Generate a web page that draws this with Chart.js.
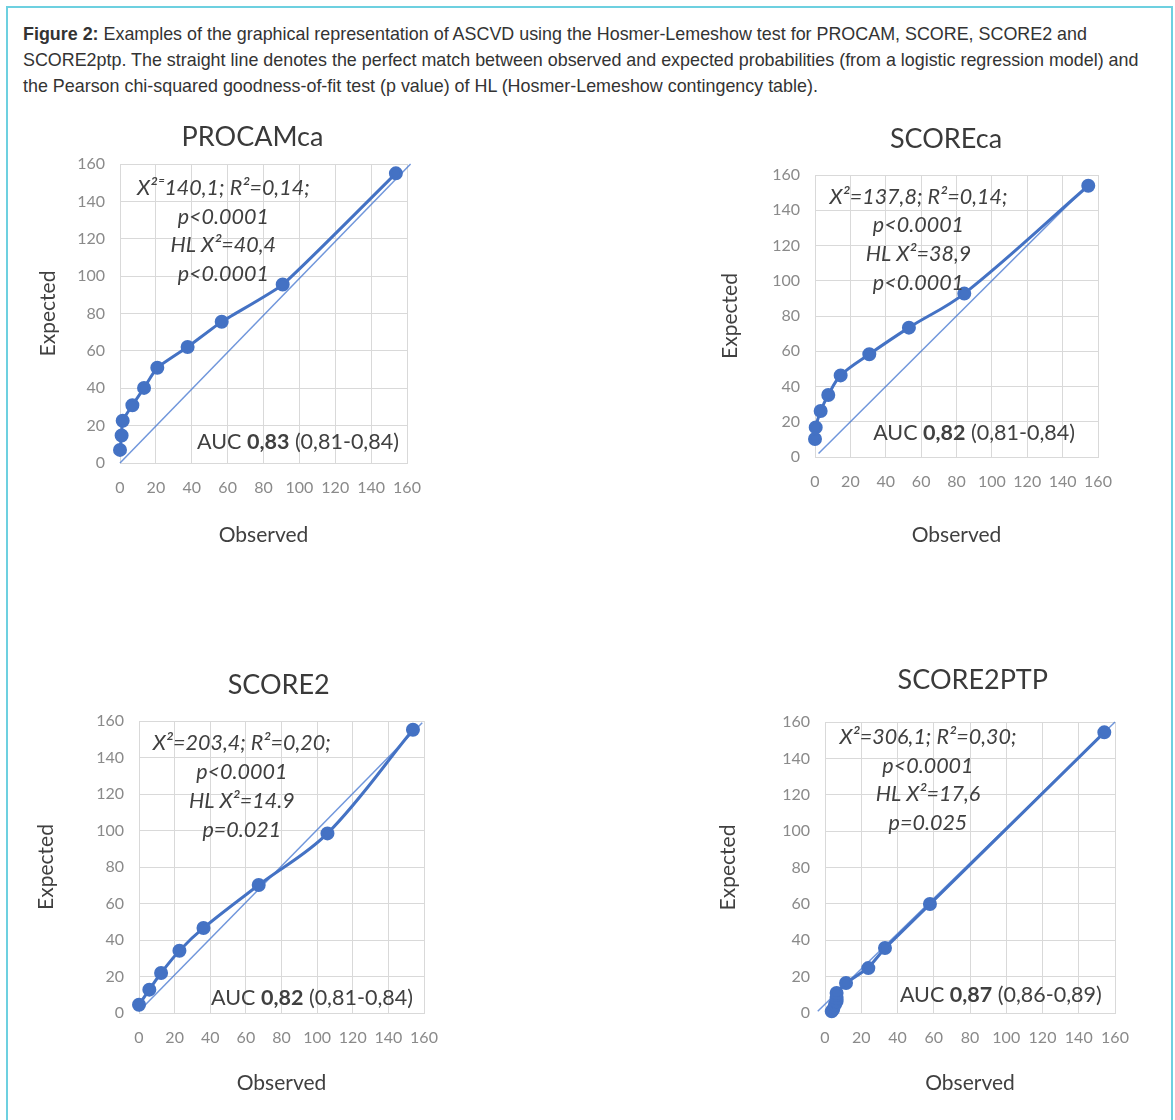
<!DOCTYPE html>
<html><head><meta charset="utf-8">
<script src="https://cdn.jsdelivr.net/npm/chart.js@4.4.1/dist/chart.umd.min.js"></script>
<style>
html,body{margin:0;padding:0;background:#fff;}
body{width:1175px;height:1120px;position:relative;overflow:hidden;}
#frame{position:absolute;left:6px;top:6px;width:1167px;height:1200px;border:2px solid #6dd0e0;box-sizing:border-box;}
#caption{position:absolute;left:23px;top:21px;font-family:"Liberation Sans",Arial,sans-serif;font-size:17.9px;line-height:26px;color:#333;white-space:nowrap;}
canvas{position:absolute;}
</style></head><body>
<div id="frame"></div>
<div id="caption"><b>Figure 2:</b> Examples of the graphical representation of ASCVD using the Hosmer-Lemeshow test for PROCAM, SCORE, SCORE2 and<br>SCORE2ptp. The straight line denotes the perfect match between observed and expected probabilities (from a logistic regression model) and<br>the Pearson chi-squared goodness-of-fit test (p value) of HL (Hosmer-Lemeshow contingency table).</div>
<canvas id="c1"></canvas>
<canvas id="c2"></canvas>
<canvas id="c3"></canvas>
<canvas id="c4"></canvas>
<script>
// ---------- data ----------
const tickValues = [0, 20, 40, 60, 80, 100, 120, 140, 160];
const xAxisTitle = "Observed";
const yAxisTitle = "Expected";

const procamTitle = "PROCAMca";
const procamObserved = [0, 0.9, 1.5, 6.9, 13.4, 20.8, 37.7, 56.7, 90.7, 153.8];
const procamExpected = [7.0, 14.7, 22.6, 30.9, 40.2, 51.0, 62.1, 75.6, 95.5, 155.0];
const procamRefX = [0, 162];
const procamRefY = [0, 160];
const procamNotes = ["X\u00B2\u207C140,1; R\u00B2=0,14;", "p<0.0001", "HL X\u00B2=40,4", "p<0.0001"];
const procamAuc = ["0,83", "(0,81-0,84)"];

const scoreTitle = "SCOREca";
const scoreObserved = [0, 0.4, 3.2, 7.5, 14.5, 30.7, 53.1, 84.4, 154.5];
const scoreExpected = [10.2, 16.8, 26.1, 35.2, 46.3, 58.3, 73.4, 92.7, 153.9];
const scoreRefX = [2, 156];
const scoreRefY = [2, 156];
const scoreNotes = ["X\u00B2=137,8; R\u00B2=0,14;", "p<0.0001", "HL X\u00B2=38,9", "p<0.0001"];
const scoreAuc = ["0,82", "(0,81-0,84)"];

const score2Title = "SCORE2";
const score2Observed = [0, 5.8, 12.4, 22.7, 36.2, 67.2, 105.8, 153.8];
const score2Expected = [4.5, 12.8, 21.9, 34.1, 46.6, 70.1, 98.4, 155.2];
const score2RefX = [0, 159];
const score2RefY = [1, 159];
const score2Notes = ["X\u00B2=203,4; R\u00B2=0,20;", "p<0.0001", "HL X\u00B2=14.9", "p=0.021"];
const score2Auc = ["0,82", "(0,81-0,84)"];

const ptpTitle = "SCORE2PTP";
const ptpObserved = [3.7, 4.5, 5.5, 6.4, 6.4, 6.4, 11.6, 23.9, 33.1, 57.9, 154.1];
const ptpExpected = [0.9, 2.0, 4.6, 6.5, 8.2, 11.0, 16.5, 24.7, 35.7, 59.9, 154.3];
const ptpRefX = [-4, 160];
const ptpRefY = [1, 160];
const ptpNotes = ["X\u00B2=306,1; R\u00B2=0,30;", "p<0.0001", "HL X\u00B2=17,6", "p=0.025"];
const ptpAuc = ["0,87", "(0,86-0,89)"];

// ---------- layout / style ----------
const FONT = 'Lato, "Open Sans", sans-serif';
const TITLE_SIZE = 27, AXIS_SIZE = 21, TICK_SIZE = 16, NOTE_SIZE = 21.5;
const BLUE = '#4472C4';
const REF_BLUE = 'rgba(76,124,210,0.8)';
const GRID = '#d9d9d9';

const layouts = {
  c1: {plot:{l:120,t:164,r:407,b:463}, titleX:252.5, titleY:137, yTitleX:48, xTitleY:535,
       note:{x:57.6,y:147.1,gap:28.5}, auc:{x:155.5,y:11.4}, tension:0.15},
  c2: {plot:{l:815,t:175,r:1098,b:457}, titleX:946, titleY:139, yTitleX:730, xTitleY:535,
       note:{x:58.5,y:147.7,gap:28.8}, auc:{x:147,y:13.8}, tension:0.35},
  c3: {plot:{l:139,t:721,r:424,b:1013}, titleX:278.7, titleY:685, yTitleX:46.7, xTitleY:1083,
       note:{x:57.7,y:147.8,gap:29}, auc:{x:153.8,y:8.2}, tension:0.35},
  c4: {plot:{l:825,t:722,r:1115,b:1013}, titleX:972.8, titleY:680, yTitleX:728.3, xTitleY:1083,
       note:{x:56.8,y:151.6,gap:28.5}, auc:{x:152.7,y:9.9}, tension:0}
};

function pts(xs, ys) { return xs.map((x, i) => ({x: x, y: ys[i]})); }

function notesPlugin(lines, auc, L) {
  return {
    id: 'notes',
    afterDatasetsDraw(chart) {
      const ctx = chart.ctx, xs = chart.scales.x, ys = chart.scales.y;
      ctx.save();
      ctx.fillStyle = '#404040';
      ctx.textBaseline = 'middle';
      ctx.textAlign = 'center';
      ctx.font = 'italic ' + NOTE_SIZE + 'px ' + FONT;
      const nx = xs.getPixelForValue(L.note.x), ny = ys.getPixelForValue(L.note.y);
      lines.forEach((t, i) => ctx.fillText(t, nx, ny + i * L.note.gap));
      const reg = NOTE_SIZE + 'px ' + FONT, bold = 'bold ' + NOTE_SIZE + 'px ' + FONT;
      const parts = [["AUC ", reg], [auc[0], bold], [" " + auc[1], reg]];
      let w = 0;
      parts.forEach(p => { ctx.font = p[1]; w += ctx.measureText(p[0]).width; });
      let ax = xs.getPixelForValue(L.auc.x) - w;
      const ay = ys.getPixelForValue(L.auc.y);
      ctx.textAlign = 'left';
      parts.forEach(p => { ctx.font = p[1]; ctx.fillText(p[0], ax, ay); ax += ctx.measureText(p[0]).width; });
      ctx.restore();
    }
  };
}

function build(id, title, obs, exp, refX, refY, notes, auc) {
  const L = layouts[id], p = L.plot;
  const lhT = TITLE_SIZE * 1.2, lhA = AXIS_SIZE * 1.2;
  // vertical
  const cy = Math.floor(L.titleY - lhT / 2 - 2);
  const padTop = L.titleY - lhT / 2 - cy;
  const titlePadBottom = p.t - (cy + padTop + lhT);
  const ch = Math.ceil(L.xTitleY + lhA / 2 + 4 - cy);
  const padBottom = ch - (L.xTitleY + lhA / 2 - cy);
  const xAxisH = L.xTitleY + lhA / 2 - p.b;
  // horizontal
  const yTitlePad = 2;
  const boxLeft = L.yTitleX - lhA / 2 - yTitlePad;
  const cx = Math.floor(boxLeft - 2);
  const padLeft = boxLeft - cx;
  const yAxisW = p.l - boxLeft;
  const rightW = Math.max(0, 2 * L.titleX - boxLeft - p.r); // spacer so the title centres where it should
  const cw = Math.ceil(p.r + rightW + 2 - cx);
  const padRight = cw - (p.r + rightW - cx);

  const cv = document.getElementById(id);
  cv.width = cw; cv.height = ch;
  cv.style.left = cx + 'px'; cv.style.top = cy + 'px';
  cv.style.width = cw + 'px'; cv.style.height = ch + 'px';

  const setTicks = s => { s.ticks = tickValues.map(v => ({value: v})); };
  const tickStyle = {color: '#8a8a8a', font: {family: FONT, size: TICK_SIZE}, padding: 15, autoSkip: false, maxRotation: 0};
  const gridStyle = {color: GRID, lineWidth: 1, drawTicks: false};

  new Chart(cv, {
    type: 'scatter',
    data: {
      datasets: [
        {data: pts(obs, exp), showLine: true, borderColor: BLUE, backgroundColor: BLUE,
         borderWidth: 3, pointRadius: 5.5, pointHoverRadius: 5.5, tension: L.tension, clip: false},
        {data: pts(refX, refY), showLine: true, borderColor: REF_BLUE, backgroundColor: REF_BLUE,
         borderWidth: 1.5, pointRadius: 0, clip: false}
      ]
    },
    options: {
      responsive: false, animation: false, devicePixelRatio: 1,
      layout: {padding: {left: padLeft, right: padRight, top: padTop, bottom: padBottom}},
      plugins: {
        legend: {display: false}, tooltip: {enabled: false},
        title: {display: true, text: title, color: '#3a3a3a',
                font: {family: FONT, size: TITLE_SIZE, weight: 'normal', lineHeight: 1.2},
                padding: {top: 0, bottom: titlePadBottom}}
      },
      scales: {
        x: {type: 'linear', min: tickValues[0], max: tickValues[tickValues.length - 1],
            afterBuildTicks: setTicks, afterFit: s => { s.height = xAxisH; },
            grid: gridStyle, border: {display: true, color: GRID},
            ticks: tickStyle,
            title: {display: true, text: xAxisTitle, color: '#404040',
                    font: {family: FONT, size: AXIS_SIZE, lineHeight: 1.2}, padding: {top: 0, bottom: 0}}},
        y: {type: 'linear', min: tickValues[0], max: tickValues[tickValues.length - 1],
            afterBuildTicks: setTicks, afterFit: s => { s.width = yAxisW; },
            grid: gridStyle, border: {display: true, color: GRID},
            ticks: tickStyle,
            title: {display: true, text: yAxisTitle, color: '#404040',
                    font: {family: FONT, size: AXIS_SIZE, lineHeight: 1.2}, padding: {top: yTitlePad, bottom: 0}}},
        spacer: {type: 'linear', position: 'right', display: true,
                 grid: {display: false, drawTicks: false}, border: {display: false},
                 ticks: {display: false}, afterFit: s => { s.width = rightW; }}
      }
    },
    plugins: [notesPlugin(notes, auc, L)]
  });
}

build('c1', procamTitle, procamObserved, procamExpected, procamRefX, procamRefY, procamNotes, procamAuc);
build('c2', scoreTitle, scoreObserved, scoreExpected, scoreRefX, scoreRefY, scoreNotes, scoreAuc);
build('c3', score2Title, score2Observed, score2Expected, score2RefX, score2RefY, score2Notes, score2Auc);
build('c4', ptpTitle, ptpObserved, ptpExpected, ptpRefX, ptpRefY, ptpNotes, ptpAuc);
</script>
</body></html>
